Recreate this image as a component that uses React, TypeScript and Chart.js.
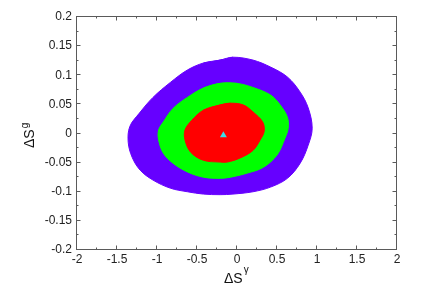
import { useEffect, useRef } from "react";
import { Chart, registerables } from "chart.js";

Chart.register(...registerables);

// Tick labels
const xTicks = [-2, -1.5, -1, -0.5, 0, 0.5, 1, 1.5, 2];
const yTicks = [-0.2, -0.15, -0.1, -0.05, 0, 0.05, 0.1, 0.15, 0.2];

// Confidence contours, [ΔSγ, ΔSg] (closed: last = first)
const purpleContour: [number, number][] = [
  [-0.21, 0.126], [-0.05, 0.131], [0.2, 0.126], [0.42, 0.114], [0.63, 0.097],
  [0.79, 0.071], [0.89, 0.044], [0.94, 0.009], [0.89, -0.02], [0.79, -0.051],
  [0.63, -0.077], [0.42, -0.092], [0.2, -0.1], [-0.05, -0.104], [-0.21, -0.105],
  [-0.42, -0.104], [-0.62, -0.1], [-0.83, -0.094], [-1.05, -0.08], [-1.21, -0.063],
  [-1.31, -0.041], [-1.36, -0.015], [-1.34, 0.012], [-1.22, 0.035], [-1.05, 0.062],
  [-0.83, 0.088], [-0.62, 0.109], [-0.42, 0.121], [-0.21, 0.126],
];
const greenContour: [number, number][] = [
  [-0.21, 0.086], [0.0, 0.086], [0.2, 0.079], [0.42, 0.066], [0.54, 0.049],
  [0.63, 0.028], [0.64, 0.009], [0.6, -0.008], [0.5, -0.037], [0.33, -0.058],
  [0.13, -0.068], [-0.08, -0.075], [-0.21, -0.077], [-0.42, -0.075], [-0.62, -0.066],
  [-0.8, -0.051], [-0.92, -0.034], [-0.98, -0.011], [-0.98, 0.006], [-0.92, 0.02],
  [-0.8, 0.043], [-0.62, 0.062], [-0.42, 0.078], [-0.21, 0.086],
];
const redContour: [number, number][] = [
  [-0.21, 0.049], [-0.08, 0.052], [0.08, 0.049], [0.2, 0.037], [0.32, 0.02],
  [0.34, 0.004], [0.29, -0.011], [0.2, -0.029], [0.04, -0.042], [-0.12, -0.049],
  [-0.21, -0.049], [-0.42, -0.046], [-0.58, -0.032], [-0.65, -0.011], [-0.65, 0.006],
  [-0.57, 0.022], [-0.42, 0.04], [-0.21, 0.049],
];
const bestFit: [number, number][] = [[-0.17, -0.003]];

const toPts = (a: [number, number][]) => a.map(([x, y]) => ({ x, y }));
// wrap a closed contour so the spline is smooth across the seam
const wrapClosed = (a: [number, number][]) => [a[a.length - 2], ...a, a[1]];

const framePlugin = {
  id: "frame",
  afterDatasetsDraw(chart: any) {
    const { ctx, chartArea: a, scales } = chart;
    const L = a.left - 0.5, R = a.right - 0.5, T = a.top - 0.5, B = a.bottom - 0.5;
    ctx.save();
    ctx.strokeStyle = "#5a5a5a";
    ctx.lineWidth = 1;
    ctx.beginPath();
    const xt = (v: number, len: number) => {
      const p = Math.round(scales.x.getPixelForValue(v)) - 0.5;
      ctx.moveTo(p, B); ctx.lineTo(p, B - len);
      ctx.moveTo(p, T); ctx.lineTo(p, T + len);
    };
    const yt = (v: number, len: number) => {
      const p = Math.round(scales.y.getPixelForValue(v)) - 0.5;
      ctx.moveTo(L, p); ctx.lineTo(L + len, p);
      ctx.moveTo(R, p); ctx.lineTo(R - len, p);
    };
    xTicks.forEach((v, i) => {
      xt(v, 4);
      if (i < xTicks.length - 1) xt((v + xTicks[i + 1]) / 2, 2);
    });
    yTicks.forEach((v, i) => {
      yt(v, 4);
      if (i < yTicks.length - 1) yt((v + yTicks[i + 1]) / 2, 2);
    });
    ctx.stroke();
    ctx.strokeRect(L, T, R - L, B - T);
    ctx.restore();
  },
  afterDraw(chart: any) {
    const { ctx, chartArea: a } = chart;
    ctx.save();
    ctx.fillStyle = "#111";
    ctx.textBaseline = "alphabetic";
    ctx.textAlign = "left";
    const big = '14px "Liberation Sans", Arial, sans-serif';
    const small = '10px "Liberation Sans", Arial, sans-serif';
    // x title
    const cx = (a.left + a.right) / 2;
    ctx.font = big;
    const w1 = ctx.measureText("ΔS").width;
    const x0 = cx - 13;
    ctx.fillText("ΔS", x0, a.bottom + 33);
    ctx.font = small;
    ctx.fillText("γ", x0 + w1 + 1, a.bottom + 23);
    // y title
    ctx.translate(34, 148);
    ctx.rotate(-Math.PI / 2);
    ctx.font = big;
    const w2 = ctx.measureText("ΔS").width;
    ctx.fillText("ΔS", 0, 0);
    ctx.font = small;
    ctx.fillText("g", w2 + 1, -6);
    ctx.restore();
  },
};

export default function App() {
  const ref = useRef<HTMLCanvasElement | null>(null);
  useEffect(() => {
    document.body.style.margin = "0";
    if (!ref.current) return;
    Chart.defaults.font.family = '"Liberation Sans", Arial, sans-serif';
    Chart.defaults.font.size = 12;
    Chart.defaults.color = "#222";
    const contour = (data: [number, number][], color: string) => ({
      type: "scatter" as const,
      data: toPts(wrapClosed(data)),
      showLine: true,
      fill: "shape",
      backgroundColor: color,
      borderColor: color,
      borderWidth: 1,
      pointRadius: 0,
      tension: 0.35,
    });
    const chart = new Chart(ref.current, {
      type: "scatter",
      data: {
        datasets: [
          {
            data: toPts(bestFit),
            pointStyle: "triangle",
            pointRadius: 4,
            backgroundColor: "#3cdde8",
            borderColor: "#3cdde8",
            borderWidth: 0,
          } as any,
          contour(redContour, "#ff0000") as any,
          contour(greenContour, "#00ff00") as any,
          contour(purpleContour, "#6600ff") as any,
        ],
      },
      plugins: [framePlugin],
      options: {
        animation: false,
        responsive: true,
        maintainAspectRatio: false,
        events: [],
        layout: { padding: { top: 17, right: 34, left: 0, bottom: 0 } },
        plugins: { legend: { display: false }, tooltip: { enabled: false } },
        scales: {
          x: {
            type: "linear",
            min: -2,
            max: 2,
            grid: { display: false, drawTicks: false },
            border: { display: false },
            afterBuildTicks: (s: any) => { s.ticks = xTicks.map((v) => ({ value: v })); },
            afterFit: (s: any) => { s.height = 55; },
            ticks: { padding: 2, maxRotation: 0, autoSkip: false, callback: (v: any) => String(v) },
          },
          y: {
            type: "linear",
            min: -0.2,
            max: 0.2,
            grid: { display: false, drawTicks: false },
            border: { display: false },
            afterBuildTicks: (s: any) => { s.ticks = yTicks.map((v) => ({ value: v })); },
            afterFit: (s: any) => { s.width = 77; },
            ticks: { padding: 5, autoSkip: false, callback: (v: any) => String(v) },
          },
        },
      },
    });
    return () => chart.destroy();
  }, []);
  return (
    <div style={{ width: 431, height: 305, position: "relative" }}>
      <canvas ref={ref} />
    </div>
  );
}
